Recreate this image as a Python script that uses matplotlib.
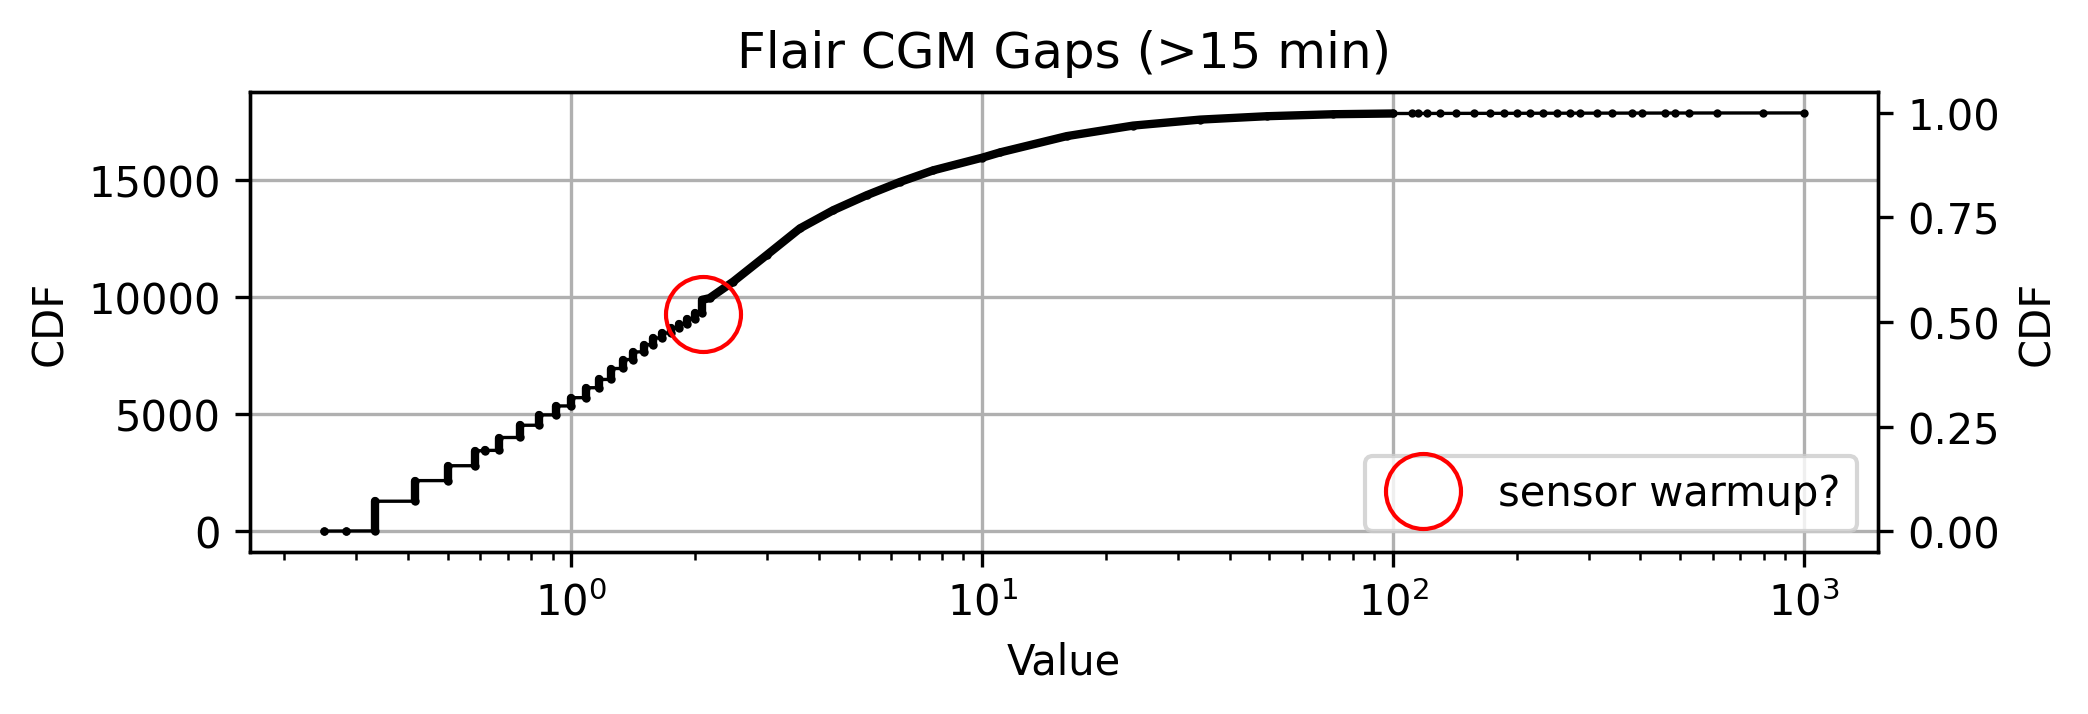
import numpy as np
import matplotlib
matplotlib.use("Agg")
import matplotlib.pyplot as plt

# gap length (hours) -> cumulative count
# short gaps come in 5-minute steps, so the curve is a staircase there
step_values = [0.25, 0.2833, 0.3333, 0.4167, 0.5, 0.5833, 0.6167, 0.6667, 0.75,
               0.8333, 0.9167, 1.0, 1.0833, 1.1667, 1.25, 1.3333, 1.4167, 1.5,
               1.5833, 1.6667, 1.75, 1.8333, 1.9167, 2.0, 2.0833]
step_counts = [2, 6, 1275, 2155, 2790, 3430, 3445, 3995, 4518,
               4960, 5342, 5695, 6120, 6473, 6940, 7323, 7650, 7960,
               8245, 8457, 8670, 8840, 9065, 9307, 9873]

# dense, smooth part of the curve
smooth_values = [2.0833, 2.17, 2.48, 2.99, 3.60, 4.34, 5.23, 6.31, 7.60,
                 10.0, 11.05, 16.06, 23.3, 33.9, 49.3, 71.6, 100.0]
smooth_counts = [9873, 9945, 10654, 11785, 12920, 13698, 14335, 14904, 15400,
                 15940, 16165, 16860, 17310, 17565, 17710, 17795, 17826]

# sparse tail of very long gaps
tail_values = [111, 115, 121, 130, 142, 157, 172, 186, 200, 216, 232, 250,
               270, 285, 313, 341, 381, 403, 459, 486, 524, 614, 797, 1000]
tail_counts = [17827, 17828, 17829, 17830, 17831, 17832, 17833, 17834, 17835,
               17836, 17837, 17838, 17839, 17840, 17841, 17842, 17843, 17844,
               17845, 17846, 17847, 17848, 17849, 17850]

total = tail_counts[-1]
warmup_x, warmup_y = 2.09, 9265

# staircase path: each repeated value gives a vertical run
xs, ys = [], []
prev = 0
lowers = []
for v, c in zip(step_values, step_counts):
    xs += [v, v]
    ys += [prev + 1, c]
    lowers.append(prev + 1)
    prev = c
xs += smooth_values[1:] + tail_values
ys += smooth_counts[1:] + tail_counts

fig = plt.figure(figsize=(6.96, 2.3833), dpi=300)
ax = fig.add_axes([0.1197, 0.2266, 0.7797, 0.6433])

ax.plot(xs, ys, '-', color='k', lw=0.8, marker='o', ms=1.3, mew=0.7)
ax.vlines(step_values, lowers, step_counts, color='k', lw=2.0, capstyle='round')
ax.plot(smooth_values, smooth_counts, '-', color='k', lw=2.0, solid_capstyle='round')

ax.plot(warmup_x, warmup_y, 'o', ms=18, mfc='none', mec='red', mew=1.0,
        label='sensor warmup?', zorder=5)

ax.set_xscale('log')
ax.grid(True)
ax.set_xlabel('Value')
ax.set_ylabel('CDF')
ax.set_title('Flair CGM Gaps (>15 min)')
ax.legend(loc='lower right')

ax2 = ax.twinx()
lo, hi = ax.get_ylim()
ax2.set_ylim(lo / total, hi / total)
ax2.set_yticks([0, 0.25, 0.5, 0.75, 1.0])
ax2.set_ylabel('CDF')

fig.savefig('out.png', dpi=300)
